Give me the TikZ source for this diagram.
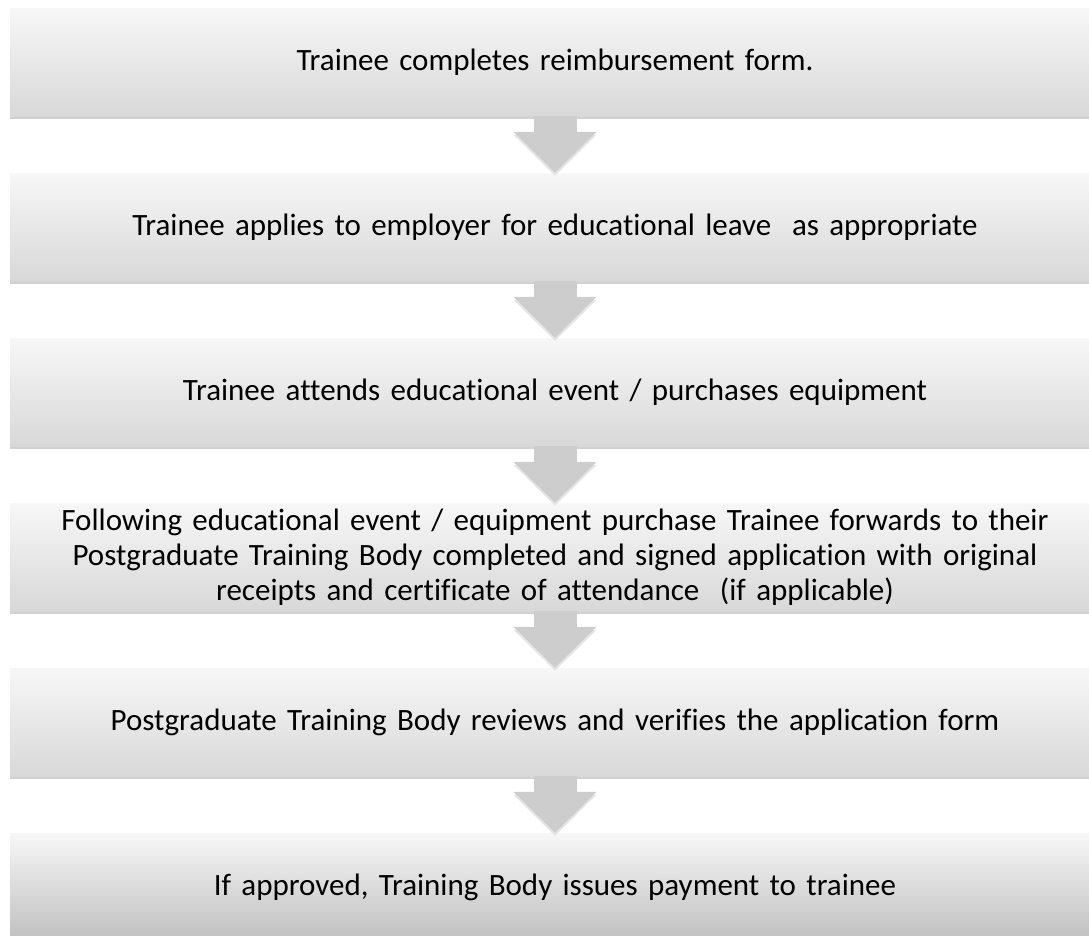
\documentclass[tikz,border=0pt]{standalone}
\usepackage{fontspec}
\setmainfont{Carlito}[Ligatures={NoCommon}]
\usepackage{tikz}
\usetikzlibrary{arrows.meta, positioning, shadows}

\definecolor{stagetop}{HTML}{F7F7F7}
\definecolor{stagebot}{HTML}{D8D8D8}
\definecolor{flowgray}{HTML}{CDCDCD}

\tikzset{
  stage/.style={rectangle, minimum width=1090pt, minimum height=108pt, inner sep=0pt,
    text width=1060pt, align=center, font=\fontsize{31}{35}\selectfont,
    top color=stagetop, bottom color=stagebot,
    drop shadow={shadow xshift=0pt, shadow yshift=-3pt, fill=black, opacity=0.18}},
  flow/.style={draw=flowgray, line width=43pt,
    -{Triangle[width=83pt, length=41pt, line width=0pt]}},
  flowshadow/.style={flow, draw=black!10, transform canvas={yshift=-3pt}}
}

\begin{document}
\begin{tikzpicture}[x=1pt, y=1pt, node distance=165pt, on grid]
        \useasboundingbox (0,0) rectangle (1089,-935);

        \node[stage] (s_1) at (555,-62)  {Trainee completes reimbursement form.};
        \node[stage] (s_2) [below=of s_1] {Trainee applies to employer for educational leave~ as appropriate};
        \node[stage] (s_3) [below=of s_2] {Trainee attends educational event / purchases equipment};
        \node[stage] (s_4) [below=of s_3] {Following educational event / equipment purchase Trainee forwards to their\\
                                          Postgraduate Training Body completed and signed application with original\\
                                          receipts and certificate of attendance~ (if applicable)};
        \node[stage] (s_5) [below=of s_4] {Postgraduate Training Body reviews and verifies the application form};
        \node[stage, bottom color=black!25] (s_6) [below=of s_5] {If approved, Training Body issues payment to trainee};

        \foreach \i/\j in {1/2, 2/3, 3/4, 4/5, 5/6} {
            \draw[flowshadow] (s_\i) -- (s_\j);
            \draw[flow] (s_\i) -- (s_\j);
        }
    \end{tikzpicture}
\end{document}
